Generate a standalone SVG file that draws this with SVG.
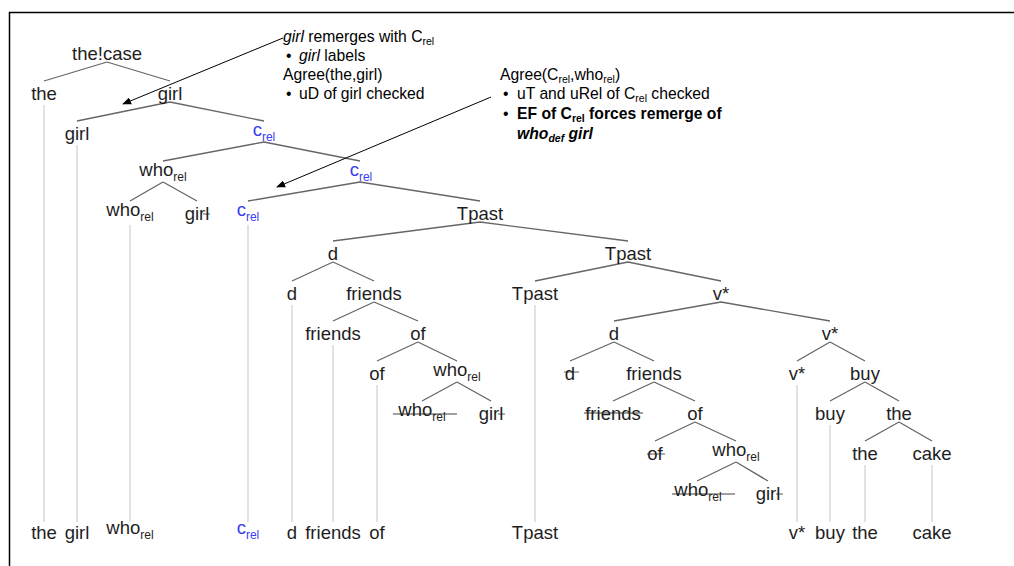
<svg xmlns="http://www.w3.org/2000/svg" width="1014" height="566" viewBox="0 0 1014 566">
<defs>
<marker id="ah" viewBox="0 0 10 10" refX="9" refY="5" markerWidth="9" markerHeight="9" orient="auto" markerUnits="userSpaceOnUse"><path d="M0,1 L10,5 L0,9 z" fill="#000"/></marker>
<style>
.n{font-family:"Liberation Sans",Arial,sans-serif;font-size:18.5px;fill:#1e1e1e;text-anchor:middle}
.b{fill:#3a3af0}
.s{font-size:12px}
.e{stroke:#666;stroke-width:1.3;fill:none}
.v{stroke:#e2e2e2;stroke-width:2;fill:none}
.x{stroke:#808080;stroke-width:1.3;fill:none}
.a{font-family:"Liberation Sans",Arial,sans-serif;font-size:15.7px;fill:#000}
.as{font-size:10.5px}
.ar{stroke:#000;stroke-width:1;fill:none}
</style>
</defs>
<rect width="1014" height="566" fill="#fff"/>
<path d="M9.5,566 V12.5 H1014" stroke="#000" stroke-width="1.5" fill="none"/>

<g id="connectors">
<g class="e">
<path d="M107,62 L44,81 M107,62 L170,81"/>
<path d="M170,102 L77,121 M170,102 L264,121"/>
<path d="M264,142 L163,161 M264,142 L360,161"/>
<path d="M163,182 L130,201 M163,182 L197,201"/>
<path d="M360,182 L248,201 M360,182 L480,201"/>
<path d="M480,222 L333,241 M480,222 L628,241"/>
<path d="M333,262 L292,281 M333,262 L374,281"/>
<path d="M628,262 L535,281 M628,262 L721,281"/>
<path d="M374,302 L333,321 M374,302 L418,321"/>
<path d="M721,302 L614,321 M721,302 L830,321"/>
<path d="M418,342 L377,361 M418,342 L457,361"/>
<path d="M614,342 L570,361 M614,342 L654,361"/>
<path d="M830,342 L797,361 M830,342 L865,361"/>
<path d="M457,382 L422,401 M457,382 L491,401"/>
<path d="M654,382 L613,401 M654,382 L695,401"/>
<path d="M865,382 L830,401 M865,382 L899,401"/>
<path d="M695,422 L655,441 M695,422 L736,441"/>
<path d="M899,422 L865,441 M899,422 L932,441"/>
<path d="M736,462 L697,481 M736,462 L768,481"/>
</g>
<g class="v">
<path d="M44,105 V522 M77,145 V522 M130,225 V522 M248,225 V522 M292,305 V522 M333,345 V522 M377,385 V522 M535,305 V522 M797,385 V522 M830,425 V522 M865,465 V522 M932,465 V522"/>
</g>
<g class="x">
<path d="M203,214 H210"/>
<path d="M393,414 H457"/>
<path d="M498,414 H505"/>
<path d="M564,372 H579"/>
<path d="M584,413 H643"/>
<path d="M647,454 H665"/>
<path d="M672,494 H735"/>
<path d="M776,494 H783"/>
</g>
<path class="ar" d="M283,38 L123,104" marker-end="url(#ah)"/>
<path class="ar" d="M491,97 L277,187" marker-end="url(#ah)"/>
</g>

<g id="n-thecase"><text class="n" x="107" y="60">the!case</text></g>
<g id="n-the1"><text class="n" x="44" y="100">the</text></g>
<g id="n-girl1"><text class="n" x="170" y="100">girl</text></g>
<g id="n-girl2"><text class="n" x="77" y="140">girl</text></g>
<g id="n-crel1"><text class="n b" x="264" y="136">c<tspan class="s" dy="5">rel</tspan></text></g>
<g id="n-who1"><text class="n" x="163" y="176">who<tspan class="s" dy="5">rel</tspan></text></g>
<g id="n-crel2"><text class="n b" x="361" y="176">c<tspan class="s" dy="5">rel</tspan></text></g>
<g id="n-who2"><text class="n" x="130" y="216">who<tspan class="s" dy="5">rel</tspan></text></g>
<g id="n-girl3"><text class="n" x="197" y="220">girl</text></g>
<g id="n-crel3"><text class="n b" x="248" y="216">c<tspan class="s" dy="5">rel</tspan></text></g>
<g id="n-tpast1"><text class="n" x="480" y="220">Tpast</text></g>
<g id="n-d1"><text class="n" x="333" y="260">d</text></g>
<g id="n-tpast2"><text class="n" x="628" y="260">Tpast</text></g>
<g id="n-d2"><text class="n" x="292" y="300">d</text></g>
<g id="n-friends1"><text class="n" x="374" y="300">friends</text></g>
<g id="n-tpast3"><text class="n" x="535" y="300">Tpast</text></g>
<g id="n-v1"><text class="n" x="721" y="300">v*</text></g>
<g id="n-friends2"><text class="n" x="333" y="340">friends</text></g>
<g id="n-of1"><text class="n" x="418" y="340">of</text></g>
<g id="n-d3"><text class="n" x="614" y="340">d</text></g>
<g id="n-v2"><text class="n" x="830" y="340">v*</text></g>
<g id="n-of2"><text class="n" x="377" y="380">of</text></g>
<g id="n-who3"><text class="n" x="457" y="376">who<tspan class="s" dy="5">rel</tspan></text></g>
<g id="n-d4"><text class="n" x="570" y="380">d</text></g>
<g id="n-friends3"><text class="n" x="654" y="380">friends</text></g>
<g id="n-v3"><text class="n" x="797" y="380">v*</text></g>
<g id="n-buy1"><text class="n" x="865" y="380">buy</text></g>
<g id="n-who4"><text class="n" x="422" y="416">who<tspan class="s" dy="5">rel</tspan></text></g>
<g id="n-girl4"><text class="n" x="491" y="420">girl</text></g>
<g id="n-friends4"><text class="n" x="613" y="420">friends</text></g>
<g id="n-of3"><text class="n" x="695" y="420">of</text></g>
<g id="n-buy2"><text class="n" x="830" y="420">buy</text></g>
<g id="n-the2"><text class="n" x="899" y="420">the</text></g>
<g id="n-of4"><text class="n" x="655" y="460">of</text></g>
<g id="n-who5"><text class="n" x="736" y="456">who<tspan class="s" dy="5">rel</tspan></text></g>
<g id="n-the3"><text class="n" x="865" y="460">the</text></g>
<g id="n-cake1"><text class="n" x="932" y="460">cake</text></g>
<g id="n-who6"><text class="n" x="698" y="496">who<tspan class="s" dy="5">rel</tspan></text></g>
<g id="n-girl5"><text class="n" x="768" y="500">girl</text></g>

<g id="bottom-row">
<text class="n" x="44" y="539">the</text>
<text class="n" x="77" y="539">girl</text>
<text class="n" x="130" y="534">who<tspan class="s" dy="5">rel</tspan></text>
<text class="n b" x="248" y="534">c<tspan class="s" dy="5">rel</tspan></text>
<text class="n" x="292" y="539">d</text>
<text class="n" x="333" y="539">friends</text>
<text class="n" x="377" y="539">of</text>
<text class="n" x="535" y="539">Tpast</text>
<text class="n" x="797" y="539">v*</text>
<text class="n" x="830" y="539">buy</text>
<text class="n" x="865" y="539">the</text>
<text class="n" x="932" y="539">cake</text>
</g>

<g id="note1">
<text class="a" x="283" y="42"><tspan font-style="italic">girl</tspan> remerges with C<tspan class="as" dy="3">rel</tspan></text>
<text class="a" x="286" y="61">•</text>
<text class="a" x="299" y="61"><tspan font-style="italic">girl</tspan> labels</text>
<text class="a" x="283" y="80">Agree(the,girl)</text>
<text class="a" x="286" y="99">•</text>
<text class="a" x="299" y="99">uD of girl checked</text>
</g>
<g id="note2">
<text class="a" x="500" y="80">Agree(C<tspan class="as" dy="3">rel</tspan><tspan dy="-3">,who</tspan><tspan class="as" dy="3">rel</tspan><tspan dy="-3">)</tspan></text>
<text class="a" x="503" y="99">•</text>
<text class="a" x="517" y="99">uT and uRel of C<tspan class="as" dy="3">rel</tspan><tspan dy="-3"> checked</tspan></text>
<text class="a" x="503" y="119">•</text>
<text class="a" x="517" y="119" font-weight="bold">EF of C<tspan class="as" dy="3">rel</tspan><tspan dy="-3"> forces remerge of</tspan></text>
<text class="a" x="517" y="139" font-weight="bold" font-style="italic">who<tspan class="as" dy="3">def</tspan><tspan dy="-3"> girl</tspan></text>
</g>
</svg>
